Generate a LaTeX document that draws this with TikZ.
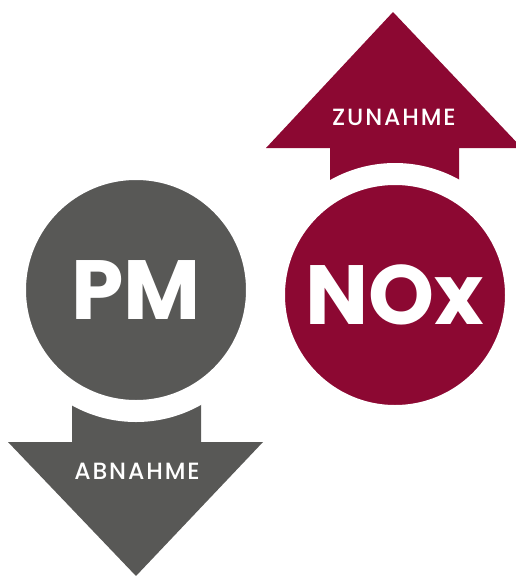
\documentclass[tikz,border=0pt]{standalone}
\usepackage{fontspec}
\setmainfont{Poppins}
\newfontfamily\pfeilfont{Poppins}[UprightFont=* Medium, LetterSpace=8]
\usetikzlibrary{positioning}
\definecolor{pmgrau}{RGB}{88,88,86}
\definecolor{noxrot}{RGB}{140,8,50}

\begin{document}
\begin{tikzpicture}[x=1pt, y=-1pt,
    kreis/.style={circle, inner sep=0pt, minimum size=242pt, draw=white, line width=22pt, text=white, font=\fontsize{84}{84}\selectfont\bfseries},
    pfeiltext/.style={text=white, inner sep=0pt, font=\pfeilfont\fontsize{23.5}{23.5}\selectfont}]
    \useasboundingbox (0,0) rectangle (516,576);

    % PM: Pfeil nach unten
    \fill[pmgrau] (72,380) -- (201,380) -- (201,442) -- (263,442) -- (136,576) -- (8,442) -- (72,442) -- cycle;
    \node[kreis, fill=pmgrau] (pm) at (136,290) {PM};
    \node[pfeiltext] (ab) at (137,471) {ABNAHME};

    % NOx: Pfeil nach oben
    \fill[noxrot] (330,210) -- (459,210) -- (459,148) -- (522,148) -- (393,12) -- (266,148) -- (330,148) -- cycle;
    \node[kreis, fill=noxrot] (nox) at (395,295) {NOx};
    \node[pfeiltext] (zu) at (394,117) {ZUNAHME};
\end{tikzpicture}
\end{document}
